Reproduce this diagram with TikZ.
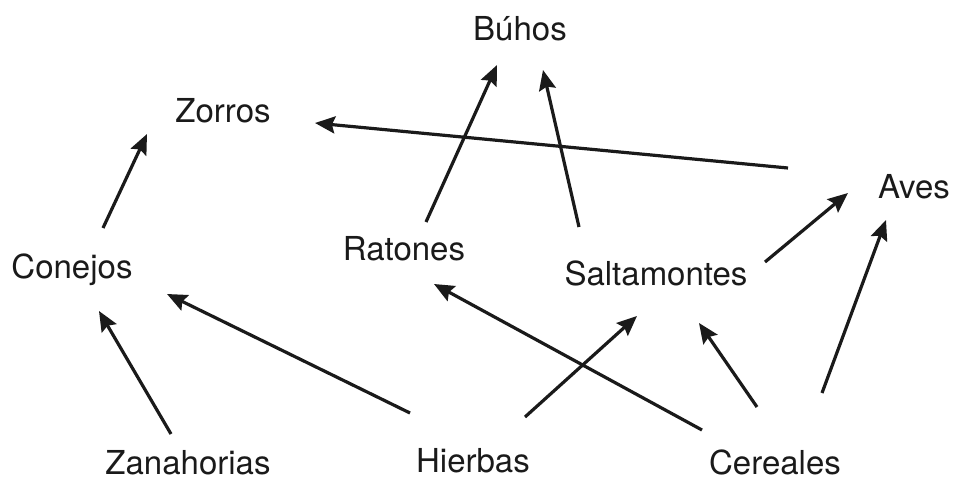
\documentclass[tikz,border=0pt]{standalone}
\usepackage{fontspec}
\setmainfont{TeX Gyre Heros}
\usetikzlibrary{arrows.meta}
\definecolor{ink}{HTML}{1A1A1A}
\tikzset{
  lbl/.style={anchor=base, inner sep=0pt, text=ink, font=\fontsize{33}{40}\selectfont},
  flat/.style={text depth=0pt},
  link/.style={draw=ink, line width=3.2pt, -{Stealth[length=20pt,width=17pt,inset=3pt]}}
}
\begin{document}
\begin{tikzpicture}[x=1pt,y=-1pt]
\useasboundingbox (0,0) rectangle (954,480);
% labels
\node[lbl] (buhos) at (520,40) {Búhos};
\node[lbl] (zorros) at (223,122) {Zorros};
\node[lbl] (aves) at (914,198) {Aves};
\node[lbl] (conejos) at (72,278) {Conejos};
\node[lbl] (ratones) at (404,260) {Ratones};
\node[lbl] (salta) at (656,285) {Saltamontes};
\node[lbl,flat] (zanah) at (188,474) {Zanahorias};
\node[lbl,flat] (hierbas) at (473,472) {Hierbas};
\node[lbl,flat] (cereales) at (775,474) {Cereales};
% connector ends
\coordinate (conejos-o) at (103,228);  \coordinate (zorros-i1) at (147,134);
\coordinate (zanah-o) at (171,434);    \coordinate (conejos-i1) at (99,311);
\coordinate (hierbas-o1) at (410,413); \coordinate (conejos-i2) at (167,294);
\coordinate (ratones-o) at (426,222);  \coordinate (buhos-i1) at (497,65);
\coordinate (salta-o1) at (579,227);   \coordinate (buhos-i2) at (543,70);
\coordinate (aves-o) at (788,168);     \coordinate (zorros-i2) at (315,123);
\coordinate (salta-o2) at (765,262);   \coordinate (aves-i1) at (848,193);
\coordinate (cereales-o1) at (822,393);\coordinate (aves-i2) at (886,220);
\coordinate (cereales-o2) at (757,407);\coordinate (salta-i1) at (699,323);
\coordinate (cereales-o3) at (702,430);\coordinate (ratones-i) at (434,284);
\coordinate (hierbas-o2) at (525,417); \coordinate (salta-i2) at (637,316);
% connectors
\draw[link] (conejos-o) -- (zorros-i1);
\draw[link] (zanah-o) -- (conejos-i1);
\draw[link] (hierbas-o1) -- (conejos-i2);
\draw[link] (ratones-o) -- (buhos-i1);
\draw[link] (salta-o1) -- (buhos-i2);
\draw[link] (aves-o) -- (zorros-i2);
\draw[link] (salta-o2) -- (aves-i1);
\draw[link] (cereales-o1) -- (aves-i2);
\draw[link] (cereales-o2) -- (salta-i1);
\draw[link] (cereales-o3) -- (ratones-i);
\draw[link] (hierbas-o2) -- (salta-i2);
\end{tikzpicture}
\end{document}
